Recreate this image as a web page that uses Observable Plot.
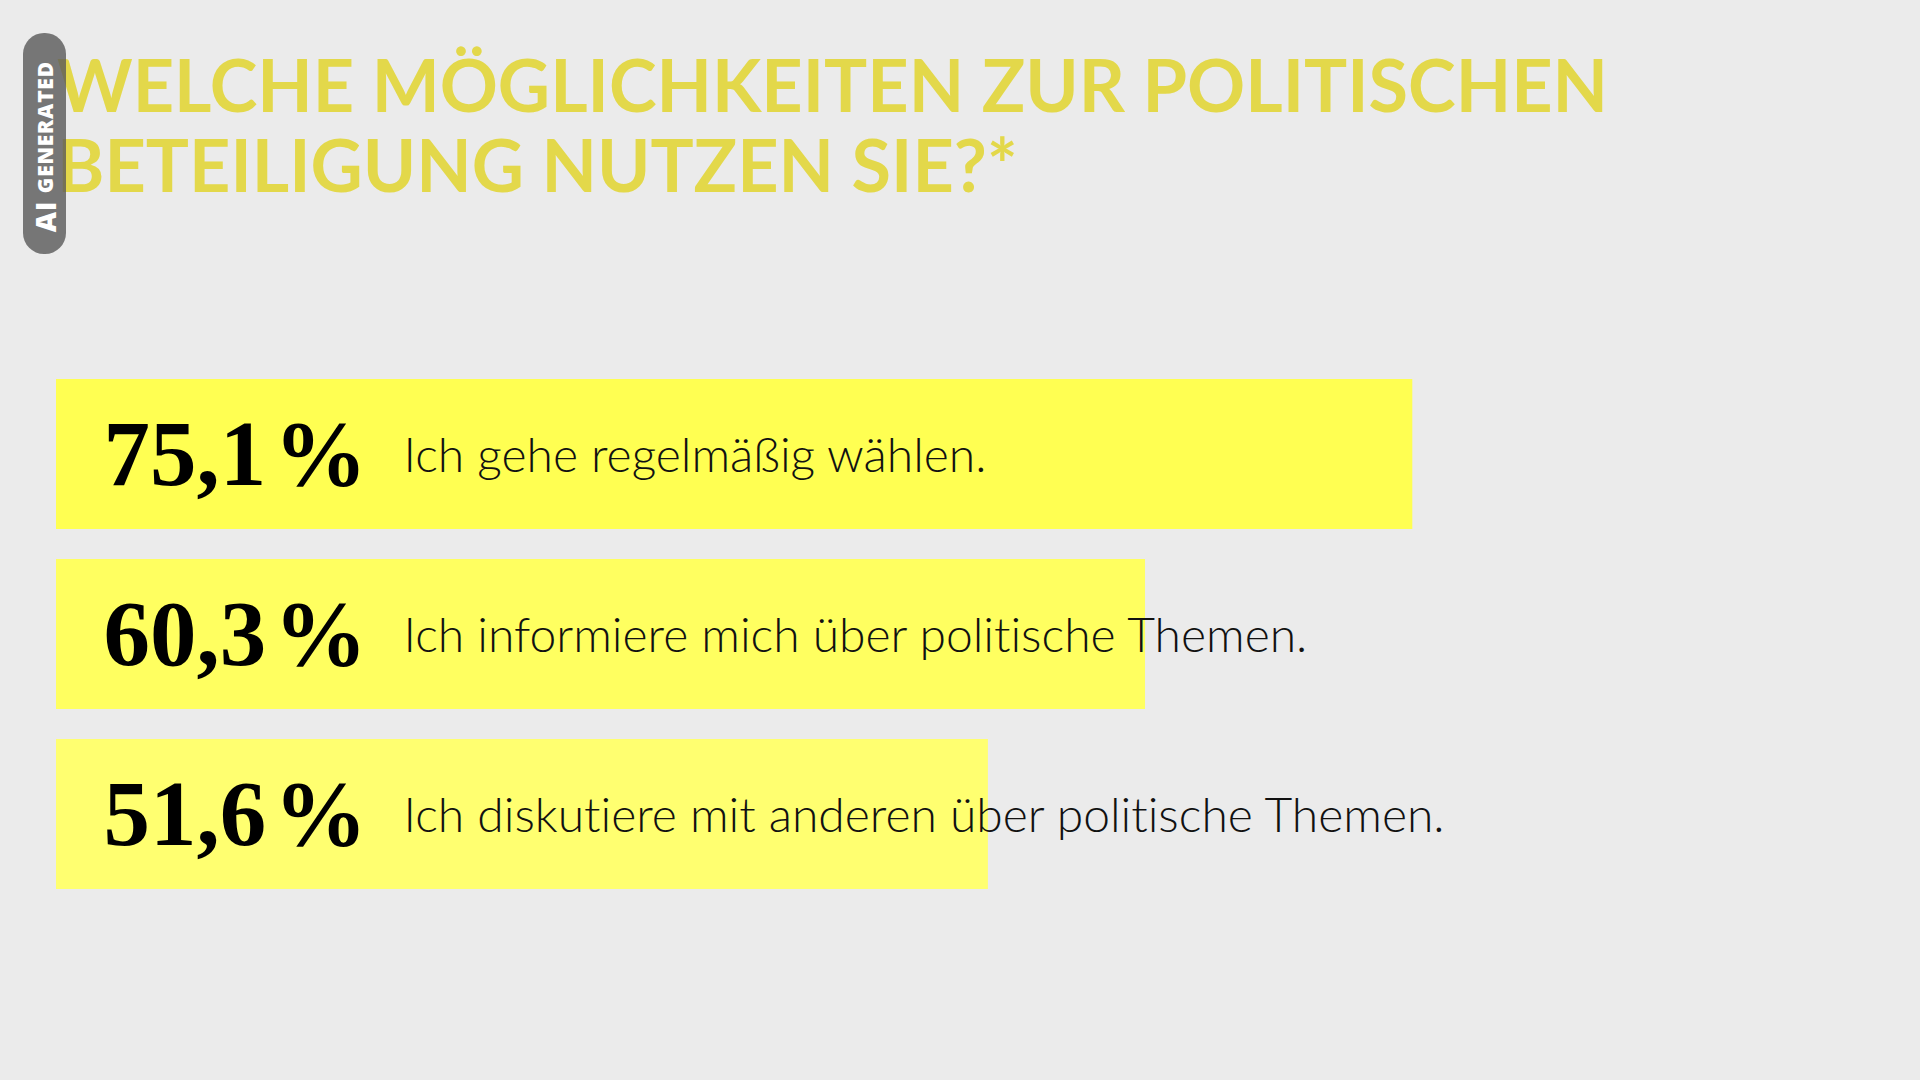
<!DOCTYPE html>
<html lang="de">
<head>
<meta charset="utf-8">
<script src="https://cdn.jsdelivr.net/npm/d3@7"></script>
<script src="https://cdn.jsdelivr.net/npm/@observablehq/plot@0.6"></script>
<style>
  html, body { margin: 0; padding: 0; background: #ebebeb; }
  #page { position: relative; width: 1920px; height: 1080px; overflow: hidden; background: #ebebeb; }
  #header { position: relative; width: 1920px; height: 300px; }
  #badge {
    position: absolute; left: 23px; top: 33px; width: 43px; height: 221px; z-index: 2;
    background: rgba(89, 89, 89, 0.8); border-radius: 21px;
    display: flex; align-items: center; justify-content: center;
  }
  #badge span.wrap {
    writing-mode: vertical-rl; transform: rotate(180deg);
    color: #fff; font-family: "Open Sans", sans-serif; font-weight: 800; white-space: nowrap;
    display: flex; align-items: center; margin-top: 6px;
  }
  #badge .ai { font-size: 28px; line-height: 28px; margin-bottom: 8px; letter-spacing: 0.5px; }
  #badge .gen { font-size: 21px; line-height: 21px; letter-spacing: 0.8px; }
  .tline {
    position: absolute; left: 57px; margin: 0; height: 80px;
    font-family: "Lato", sans-serif; font-weight: 700; font-size: 72px; line-height: 80px;
    color: #e3d84a; white-space: nowrap;
  }
  #t1 { top: 44px; }
  #t2 { top: 124px; }
  #chart svg { display: block; }
  #chart svg text { font-variant-ligatures: none; }
</style>
</head>
<body>
<div id="page">
  <div id="header">
    <div id="badge"><span class="wrap"><span class="ai">AI</span><span class="gen">GENERATED</span></span></div>
    <div class="tline" id="t1">WELCHE MÖGLICHKEITEN ZUR POLITISCHEN</div>
    <div class="tline" id="t2">BETEILIGUNG NUTZEN SIE?*</div>
  </div>
  <div id="chart"></div>
</div>
<script>
const categories = [
  "Ich gehe regelmäßig wählen.",
  "Ich informiere mich über politische Themen.",
  "Ich diskutiere mit anderen über politische Themen."
];
const values = [75.1, 60.3, 51.6];
const valueLabels = ["75,1\u200A%", "60,3\u200A%", "51,6\u200A%"];

const data = categories.map((c, i) => ({category: c, value: values[i], label: valueLabels[i]}));

const chart = Plot.plot({
  width: 1920,
  height: 780,
  marginLeft: 56,
  marginRight: 58,
  marginTop: 79,
  marginBottom: 191,
  style: {background: "#ebebeb", overflow: "visible"},
  x: {domain: [0, 100], axis: null},
  y: {type: "band", domain: categories, paddingInner: 1/6, paddingOuter: 0, axis: null},
  color: {type: "ordinal", domain: categories, range: ["#ffff52", "#ffff60", "#ffff70"]},
  marks: [
    Plot.barX(data, {x: "value", y: "category", fill: "category"}),
    Plot.text(data, {
      y: "category", text: "label", frameAnchor: "left", textAnchor: "start",
      dx: 47, dy: 1, fontSize: 93, fontWeight: 700, fill: "#000",
      fontFamily: "'Liberation Serif', serif"
    }),
    Plot.text(data, {
      y: "category", text: "category", frameAnchor: "left", textAnchor: "start",
      dx: 347, dy: 2, fontSize: 48, fontWeight: 300, fill: "#111",
      fontFamily: "Lato, sans-serif"
    })
  ]
});
document.getElementById("chart").appendChild(chart);
</script>
</body>
</html>
